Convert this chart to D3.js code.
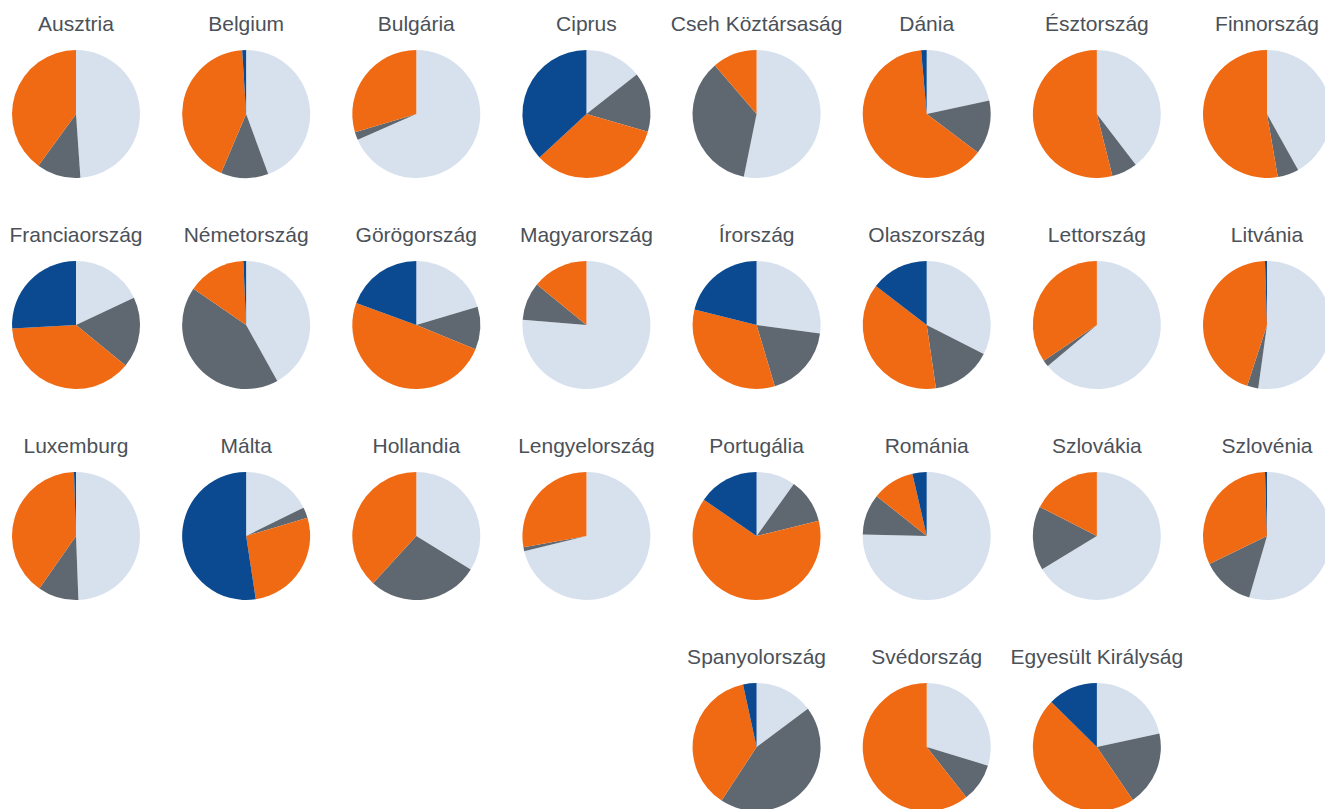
<!DOCTYPE html>
<html>
<head>
<meta charset="utf-8">
<script src="https://cdn.jsdelivr.net/npm/d3@7"></script>
<style>
  html, body { margin: 0; padding: 0; background: #ffffff; }
  svg { display: block; }
</style>
</head>
<body>
<svg id="chart" width="1325" height="809"></svg>
<script>
const countries = ["Ausztria","Belgium","Bulgária","Ciprus","Cseh Köztársaság","Dánia","Észtország","Finnország",
  "Franciaország","Németország","Görögország","Magyarország","Írország","Olaszország","Lettország","Litvánia",
  "Luxemburg","Málta","Hollandia","Lengyelország","Portugália","Románia","Szlovákia","Szlovénia",
  "Spanyolország","Svédország","Egyesült Királyság"];
// grid slot (row, column) of each country
const gridRow = [0,0,0,0,0,0,0,0, 1,1,1,1,1,1,1,1, 2,2,2,2,2,2,2,2, 3,3,3];
const gridCol = [0,1,2,3,4,5,6,7, 0,1,2,3,4,5,6,7, 0,1,2,3,4,5,6,7, 4,5,6];

// shares (%) clockwise from 12 o'clock
const seriesLightBlue = [48.9,44.4,68.4,14.4,53.2,21.6,39.6,41.9, 18.0,41.9,20.4,76.3,27.1,32.5,63.9,52.2, 49.4,17.7,33.8,71.2,9.9,75.4,66.3,54.5, 14.8,29.7,21.6];
const seriesGray      = [11.1,12.0,2.0,15.1,35.5,13.7,6.5,5.4, 17.9,42.7,10.8,9.6,18.3,15.2,1.7,2.8, 10.3,2.7,28.0,1.0,11.3,10.3,16.2,13.3, 44.4,9.7,18.9];
const seriesOrange    = [40.0,42.6,29.6,33.6,11.3,63.3,53.9,52.7, 38.2,14.7,49.4,14.1,33.5,37.7,34.4,44.5, 39.8,27.2,38.2,27.8,63.4,10.7,17.5,31.7, 37.4,60.6,46.9];
const seriesDarkBlue  = [0,1.0,0,36.9,0,1.4,0,0, 25.9,0.7,19.4,0,21.1,14.6,0,0.5, 0.5,52.4,0,0,15.4,3.6,0,0.5, 3.4,0,12.6];
const seriesNames = ["lightBlue","gray","orange","darkBlue"];

const colors = d3.scaleOrdinal().domain(seriesNames)
  .range(["#d7e1ee","#5f6870","#f06a14","#0b4a90"]);

const svg = d3.select("#chart");
const x = d3.scaleLinear().domain([0,7]).range([76, 1267]);
const y = d3.scaleLinear().domain([0,3]).range([114, 747]);
const radius = 64;

const pie = d3.pie().sort(null).value(d => d.v);
const arc = d3.arc().innerRadius(0).outerRadius(radius);

countries.forEach((name, i) => {
  const data = [
    {k:"lightBlue", v: seriesLightBlue[i]},
    {k:"gray", v: seriesGray[i]},
    {k:"orange", v: seriesOrange[i]},
    {k:"darkBlue", v: seriesDarkBlue[i]}
  ];
  const g = svg.append("g")
    .attr("transform", `translate(${x(gridCol[i])},${y(gridRow[i])})`);
  g.selectAll("path").data(pie(data)).join("path")
    .attr("d", arc)
    .attr("fill", d => colors(d.data.k));
  g.append("text")
    .attr("x", 0).attr("y", -83)
    .attr("text-anchor", "middle")
    .attr("font-family", "Liberation Sans, Arial, sans-serif")
    .attr("font-size", 21)
    .attr("fill", "#4b5158")
    .text(name);
});
</script>
</body>
</html>
